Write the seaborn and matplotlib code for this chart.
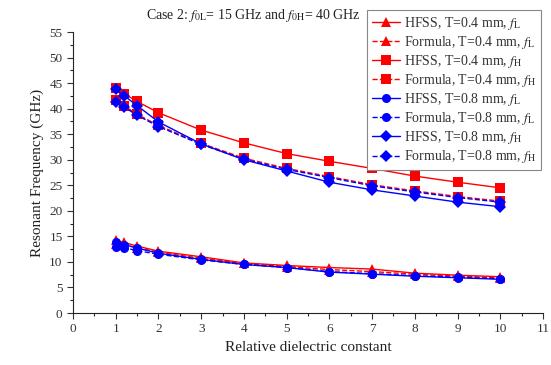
import matplotlib
matplotlib.use("Agg")
import matplotlib.pyplot as plt
from matplotlib.ticker import MultipleLocator
import seaborn as sns
import pandas as pd

eps = [1, 1.2, 1.5, 2, 3, 4, 5, 6, 7, 8, 9, 10]

hfss_04_fL = [14.2, 13.8, 13.1, 12.1, 11.0, 9.8, 9.3, 8.9, 8.6, 7.8, 7.4, 7.1]
form_04_fL = [13.6, 13.3, 12.8, 11.9, 10.7, 9.7, 9.1, 8.5, 8.1, 7.6, 7.2, 6.9]
hfss_04_fH = [44.0, 42.9, 41.4, 39.2, 35.8, 33.3, 31.2, 29.7, 28.3, 26.8, 25.6, 24.5]
form_04_fH = [41.6, 40.5, 38.9, 36.7, 33.2, 30.3, 28.3, 26.7, 25.1, 23.9, 22.8, 21.9]
hfss_08_fL = [13.8, 13.4, 12.7, 11.7, 10.5, 9.5, 8.9, 8.0, 7.6, 7.2, 6.9, 6.6]
form_08_fL = [13.0, 12.8, 12.2, 11.5, 10.4, 9.5, 8.9, 8.1, 7.7, 7.3, 7.0, 6.7]
hfss_08_fH = [43.8, 42.5, 40.6, 37.4, 33.1, 30.0, 27.8, 25.6, 24.1, 22.9, 21.7, 20.8]
form_08_fH = [41.3, 40.3, 38.7, 36.5, 33.0, 30.1, 28.1, 26.5, 24.9, 23.7, 22.6, 21.7]

labels = [
    r"HFSS, T=0.4 mm, $f_{\rm L}$",
    r"Formula, T=0.4 mm, $f_{\rm L}$",
    r"HFSS, T=0.4 mm, $f_{\rm H}$",
    r"Formula, T=0.4 mm, $f_{\rm H}$",
    r"HFSS, T=0.8 mm, $f_{\rm L}$",
    r"Formula, T=0.8 mm, $f_{\rm L}$",
    r"HFSS, T=0.8 mm, $f_{\rm H}$",
    r"Formula, T=0.8 mm, $f_{\rm H}$",
]
series = [hfss_04_fL, form_04_fL, hfss_04_fH, form_04_fH,
          hfss_08_fL, form_08_fL, hfss_08_fH, form_08_fH]
colors = ["#ff0000"] * 4 + ["#0000ff"] * 4
markers = ["^", "^", "s", "s", "o", "o", "D", "D"]
styles = ["-", "--", "-", "--", "-", "--", "-", "--"]

sns.set_theme(style="ticks")
plt.rcParams["font.family"] = ["Liberation Serif", "DejaVu Serif"]
plt.rcParams["mathtext.fontset"] = "stix"

fig = plt.figure(figsize=(5.51, 3.65), dpi=100)
ax = fig.add_axes([73 / 551, 1 - 313 / 365, 470 / 551, 281 / 365])

for vals, lab, c, m, ls in zip(series, labels, colors, markers, styles):
    df = pd.DataFrame({"x": eps, "y": vals})
    sns.lineplot(data=df, x="x", y="y", ax=ax, color=c, marker=m,
                 linestyle=ls, linewidth=1.0, markersize=6.5,
                 markeredgewidth=0, label=lab, legend=False)

ax.set_xlim(0, 11)
ax.set_ylim(0, 55)
ax.xaxis.set_major_locator(MultipleLocator(1))
ax.xaxis.set_minor_locator(MultipleLocator(0.5))
ax.yaxis.set_major_locator(MultipleLocator(5))
ax.yaxis.set_minor_locator(MultipleLocator(2.5))
ax.tick_params(which="major", direction="out", length=4, width=0.8, labelsize=9.5, colors="#333333")
ax.tick_params(which="minor", direction="out", length=2, width=0.8)
for s in ["top", "right"]:
    ax.spines[s].set_visible(False)
for s in ["left", "bottom"]:
    ax.spines[s].set_color("#222222")
    ax.spines[s].set_linewidth(0.8)

ax.set_xlabel("Relative dielectric constant", fontsize=11, color="#222222")
ax.set_ylabel("Resonant Frequency (GHz)", fontsize=11, color="#222222")

fig.text(0.459, 0.958, r"Case 2: $f_{\rm 0L}$= 15 GHz and $f_{\rm 0H}$= 40 GHz",
         ha="center", va="center", fontsize=10, color="#222222")

handles, labs = ax.get_legend_handles_labels()
leg = fig.legend(handles, labs, loc="upper left", bbox_to_anchor=(360 / 551, 1 - 3 / 365),
                 fontsize=10, frameon=True, fancybox=False, framealpha=1,
                 edgecolor="#888888", handlelength=2.0, labelspacing=0.15,
                 borderpad=0.35, handletextpad=0.3)
leg.get_frame().set_linewidth(0.8)
for t in leg.get_texts():
    t.set_color("#333333")

fig.savefig("out.png", dpi=100)
